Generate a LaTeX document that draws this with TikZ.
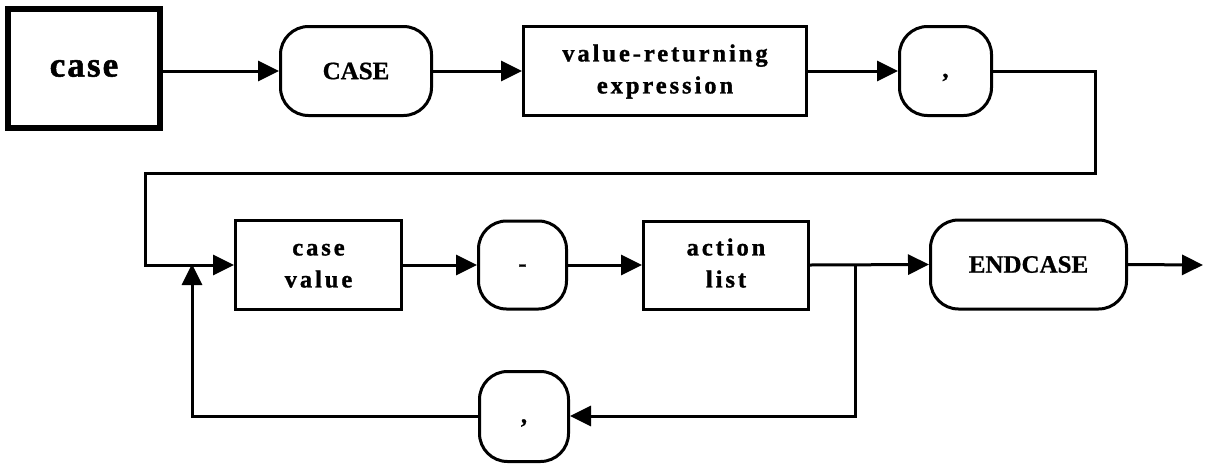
\documentclass[tikz,border=0pt]{standalone}
\usepackage{fontspec}
\setmainfont{Liberation Serif}
\newfontfamily\spacedfont[LetterSpace=12,BoldFeatures={FakeBold=1.2}]{Liberation Serif}
\newfontfamily\bigspacedfont[LetterSpace=6,BoldFeatures={FakeBold=1.5}]{Liberation Serif}
\newfontfamily\kwfont[BoldFeatures={FakeBold=0.8}]{Liberation Serif}
\usetikzlibrary{arrows.meta}
\newcommand{\lbl}[1]{{\spacedfont\bfseries\fontsize{24.5}{32}\selectfont\begin{tabular}{@{}c@{}}#1\end{tabular}}}
\newcommand{\kw}[1]{{\kwfont\bfseries\fontsize{25}{27}\selectfont #1}}
\tikzset{
  base/.style={draw, line width=3pt, inner sep=0pt, anchor=center},
  rect/.style={base},
  rbox/.style={base, rounded corners=28pt},
  conn/.style={line width=3pt},
  arr/.style={conn, -{Triangle[length=21pt,width=20pt]}},
}
\begin{document}
\begin{tikzpicture}[x=1pt,y=-1pt]
\useasboundingbox (0,0) rectangle (1215,464);
% row 1
\node[base, line width=6pt, minimum width=152pt, minimum height=119pt] (case) at (84,68.5)
  {{\bigspacedfont\bfseries\fontsize{35}{37}\selectfont case}};
\node[rbox, minimum width=151pt, minimum height=89pt] (CASE) at (356,71) {\kw{CASE}};
\node[rect, minimum width=283pt, minimum height=89pt] (vre) at (665,71) {\raisebox{-2pt}{\lbl{value-returning\\expression}}};
\node[rbox, minimum width=92pt, minimum height=89pt] (c1) at (945.5,71) {\raisebox{2pt}{\lbl{,}}};
% row 2
\node[rect, minimum width=166pt, minimum height=89pt] (cv) at (318.5,265) {\lbl{case\\value}};
\node[rbox, minimum width=88pt, minimum height=88pt] (dash) at (522.5,265) {\raisebox{-5pt}{\lbl{-}}};
\node[rect, minimum width=165pt, minimum height=88pt] (al) at (726,265) {\lbl{action\\list}};
\node[rbox, minimum width=196pt, minimum height=89pt] (end) at (1028.5,264.5) {\kw{ENDCASE}};
% row 3
\node[rbox, minimum width=89pt, minimum height=90pt] (c2) at (524,416.5) {\raisebox{2pt}{\lbl{,}}};
% helper coordinates
\coordinate (r1) at (1095,71);
\coordinate (r2) at (1095,173);
\coordinate (l2) at (145,173);
\coordinate (l3) at (145,265);
\coordinate (j1) at (192,265);
\coordinate (j1b) at (192,416);
\coordinate (j2) at (855,265);
\coordinate (j2b) at (855,416);
\coordinate (out) at (1203,265);
% connectors
\draw[arr] (case.east |- CASE.west) -- (CASE.west);
\draw[arr] (CASE.east) -- (vre.west);
\draw[arr] (vre.east) -- (c1.west);
\draw[arr] (c1.east) -- (r1) -- (r2) -- (l2) -- (l3) -- (cv.west);
\draw[arr] (c2.west |- j1b) -- (j1b) -- ([yshift=1pt]j1);
\draw[arr] (cv.east) -- (dash.west);
\draw[arr] (dash.east) -- (al.west);
\draw[arr] (al.east) -- (end.west);
\draw[arr] (j2) -- (j2b) -- (c2.east |- j2b);
\draw[arr] (end.east) -- (out);
\end{tikzpicture}
\end{document}
